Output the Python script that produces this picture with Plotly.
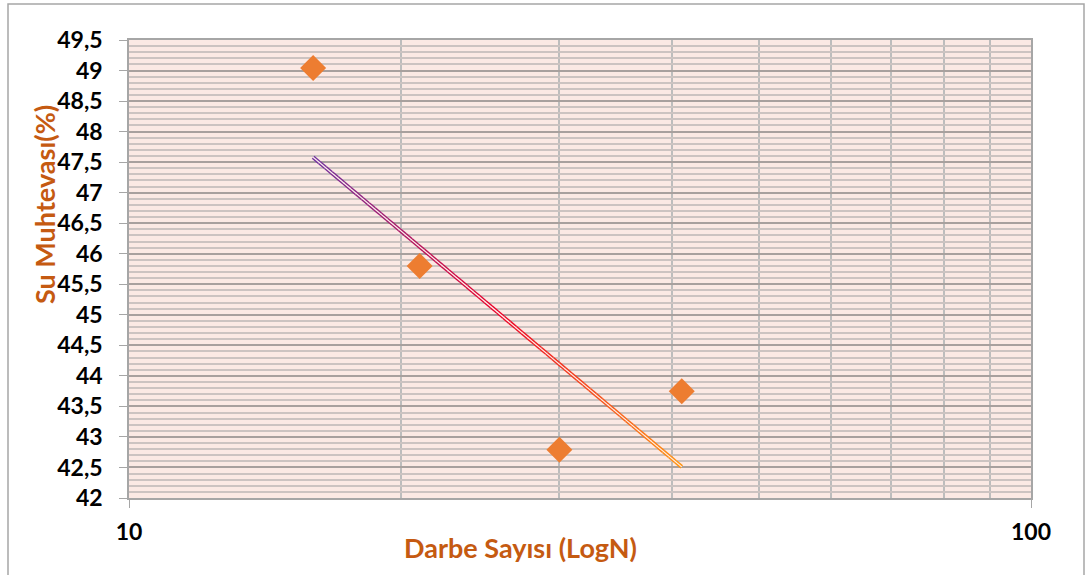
import numpy as np
import plotly.graph_objects as go

# Measured blow counts and water contents
blow_counts = [16, 21, 30, 41]
water_content = [49.04, 45.80, 42.79, 43.75]

# Trend line end points (x, y)
trend_x = [16, 41]
trend_y = [47.58, 42.51]

y_ticks = [42, 42.5, 43, 43.5, 44, 44.5, 45, 45.5, 46, 46.5, 47, 47.5, 48, 48.5, 49, 49.5]
x_ticks = [10, 100]
x_grid = [20, 30, 40, 50, 60, 70, 80, 90]

ORANGE = "#ED7D31"
TITLE = "#C55A11"
FONT = "Lato"

fig = go.Figure()

# Trend line with purple -> red -> orange colour ramp, drawn as short pieces
ramp = [(0.0, (112, 48, 160)), (0.5, (235, 0, 40)), (1.0, (255, 150, 20))]


def ramp_color(t):
    for (t0, c0), (t1, c1) in zip(ramp[:-1], ramp[1:]):
        if t <= t1:
            f = (t - t0) / (t1 - t0)
            c = [round(a + (b - a) * f) for a, b in zip(c0, c1)]
            return "rgb({},{},{})".format(*c)
    return "rgb({},{},{})".format(*ramp[-1][1])


n_pieces = 60
lx = np.linspace(np.log10(trend_x[0]), np.log10(trend_x[1]), n_pieces + 1)
ly = np.linspace(trend_y[0], trend_y[1], n_pieces + 1)
for i in range(n_pieces):
    fig.add_trace(go.Scatter(
        x=10 ** lx[i:i + 2], y=ly[i:i + 2], mode="lines",
        line=dict(color=ramp_color((i + 0.5) / n_pieces), width=4),
        hoverinfo="skip", showlegend=False,
    ))
# light core gives the double-stroke look
fig.add_trace(go.Scatter(
    x=trend_x, y=trend_y, mode="lines",
    line=dict(color="#FDF1EC", width=1.2),
    hoverinfo="skip", showlegend=False,
))

fig.add_trace(go.Scatter(
    x=blow_counts, y=water_content, mode="markers",
    marker=dict(symbol="diamond", size=20, color=ORANGE, line=dict(width=0)),
    showlegend=False,
))

tick_font = dict(family=FONT, size=23, color="black", weight="bold")
title_font = dict(family=FONT, size=27, color=TITLE, weight="bold")

fig.update_layout(
    width=1086, height=575,
    margin=dict(l=129, r=55, t=40, b=77),
    paper_bgcolor="white",
    plot_bgcolor="#FBE9E4",
    separators=",.",
    font=dict(family=FONT, size=20, color="black"),
    xaxis=dict(
        type="log", range=[1, 2],
        tickmode="array", tickvals=x_ticks, ticktext=["10", "100"],
        ticks="outside", ticklen=8, tickcolor="#A6A6A6",
        ticklabelstandoff=5,
        tickfont=tick_font,
        showgrid=True, gridcolor="#BDBDBD", gridwidth=1.5,
        minor=dict(tickvals=x_grid, showgrid=True, gridcolor="#BDBDBD",
                   gridwidth=1.5, ticks=""),
        showline=True, linecolor="#A6A6A6", linewidth=1.5, mirror=True,
        zeroline=False,
    ),
    yaxis=dict(
        range=[42, 49.5],
        tickmode="array", tickvals=y_ticks,
        ticks="outside", ticklen=8, tickcolor="#A6A6A6",
        ticklabelstandoff=12,
        tickfont=tick_font,
        showgrid=True, gridcolor="#A8A09E", gridwidth=1.5,
        minor=dict(dtick=0.1, showgrid=True, gridcolor="#CCC3C1",
                   gridwidth=1.5, ticks=""),
        showline=True, linecolor="#A6A6A6", linewidth=1.5, mirror=True,
        zeroline=False,
    ),
    annotations=[
        dict(text="Su Muhtevası(%)", xref="paper", yref="paper",
             x=-0.093, y=0.64, textangle=-90, showarrow=False,
             xanchor="center", yanchor="middle", font=title_font),
        dict(text="Darbe Sayısı (LogN)", xref="paper", yref="paper",
             x=0.4335, y=-0.107, showarrow=False,
             xanchor="center", yanchor="middle", font=title_font),
    ],
    shapes=[
        dict(type="rect", xref="paper", yref="paper",
             x0=(8 - 129) / 902, x1=(1084 - 129) / 902,
             y0=(498 - 578) / 458, y1=(498 - 4) / 458,
             line=dict(color="#A6A6A6", width=1.5), fillcolor="rgba(0,0,0,0)",
             layer="below"),
    ],
)

fig.write_html("out.html")
